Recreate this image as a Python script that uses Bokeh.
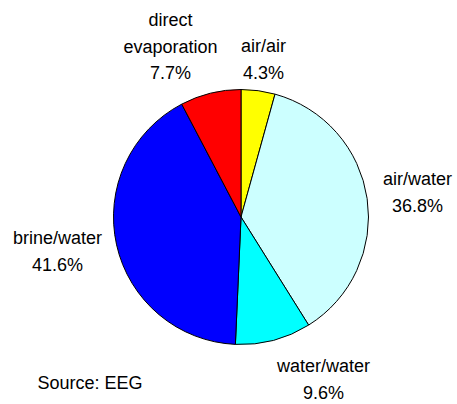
import math
from bokeh.plotting import figure
from bokeh.models import Range1d, ColumnDataSource
from bokeh.core.properties import value
from bokeh.embed import file_html
from bokeh.resources import INLINE

# ---- data ----
categories = ["air/air", "air/water", "water/water", "brine/water", "direct evaporation"]
shares = [4.3, 36.8, 9.6, 41.6, 7.7]
colors = ["#FFFF00", "#CCFFFF", "#00FFFF", "#0000FF", "#FF0000"]
label_lines = [["air/air"], ["air/water"], ["water/water"], ["brine/water"], ["direct", "evaporation"]]
source_note = "Source: EEG"

# ---- layout (image pixel coordinates) ----
PAGE_H = 404
W, H = 457, 404
CX, CY, R = 240.5, 216.5, 127.5
# label anchor: centre x, baseline of first line
label_anchor = [(263, 52), (417, 185), (323, 372), (57, 244), (170, 26)]
LINE_STEP = 26.5
TEXT_SHIFT = -6.5  # compensates renderer baseline offset
FONT = value("Liberation Sans")
FS = "18px"


def Y(ypix):
    return PAGE_H - (ypix + TEXT_SHIFT)


def YP(ypix):
    return PAGE_H - ypix


p = figure(width=W, height=H, x_range=Range1d(0, W), y_range=Range1d(0, H),
           output_backend="svg", toolbar_location=None, min_border=0)
p.axis.visible = False
p.grid.visible = False
p.outline_line_color = None
p.background_fill_color = "white"
p.border_fill_color = "white"

total = sum(shares)
starts, ends = [], []
cum = 0.0
for s in shares:
    starts.append(math.pi / 2 - 2 * math.pi * cum / total)
    cum += s
    ends.append(math.pi / 2 - 2 * math.pi * cum / total)

src = ColumnDataSource(dict(cat=categories, share=shares, color=colors, start=starts, end=ends))
p.wedge(x=CX, y=YP(CY), radius=R, start_angle="start", end_angle="end", direction="clock",
        fill_color="color", line_color="black", line_width=1, source=src)

tx, ty, tt = [], [], []
for lines, share, (ax, ay) in zip(label_lines, shares, label_anchor):
    all_lines = lines + [f"{share:.1f}%"]
    for i, t in enumerate(all_lines):
        tx.append(ax)
        ty.append(Y(ay + i * LINE_STEP))
        tt.append(t)

p.text(x=tx, y=ty, text=tt, text_align="center", text_baseline="alphabetic",
       text_font=FONT, text_font_size=FS, text_color="#000000")

p.text(x=[37], y=[Y(389)], text=[source_note], text_align="left", text_baseline="alphabetic",
       text_font=FONT, text_font_size=FS, text_color="#000000")

open("out.html", "w").write(file_html(p, INLINE))
